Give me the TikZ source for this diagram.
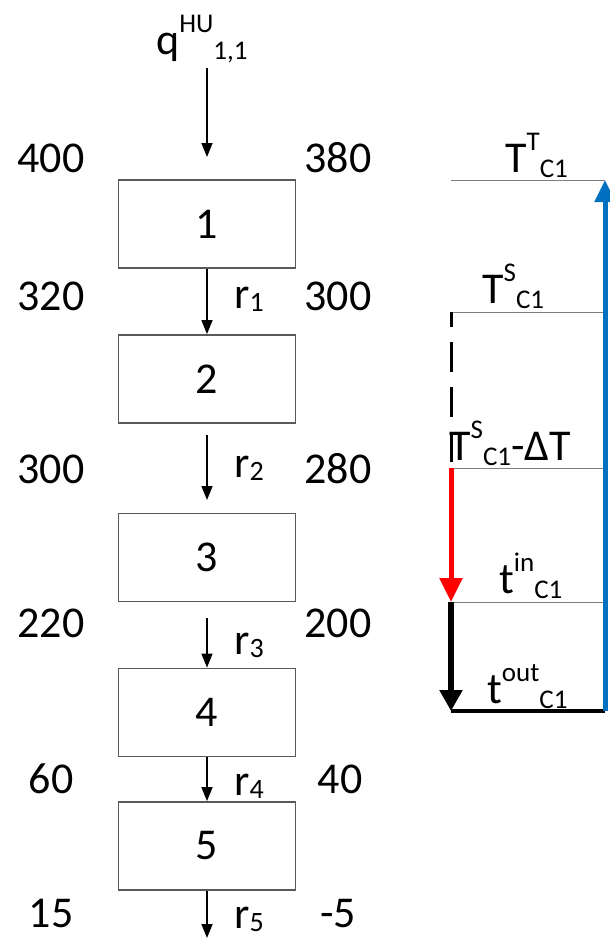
\documentclass[tikz,border=0pt]{standalone}
\usepackage{fontspec}
\setmainfont{Carlito}
\usetikzlibrary{arrows.meta}
\definecolor{boxgray}{HTML}{595959}
\definecolor{linegray}{HTML}{7F7F7F}
\definecolor{myblue}{HTML}{0070C0}
\definecolor{myred}{HTML}{FF0000}
\newcommand{\ssx}[3]{#1\raisebox{22pt}{\fontsize{27}{27}\selectfont #2}\raisebox{-5pt}{\fontsize{27}{27}\selectfont #3}}
\newcommand{\rsub}[1]{r\raisebox{-3pt}{\fontsize{28}{28}\selectfont #1}}
\begin{document}
\begin{tikzpicture}[x=1pt,y=-1pt,
  font=\fontsize{44}{44}\selectfont,
  box/.style={draw=boxgray, line width=1.8pt, minimum width=177pt, minimum height=88pt, inner sep=0pt},
  flow/.style={line width=1.5pt, -{Triangle[length=14pt,width=11pt]}},
  lbl/.style={inner sep=0pt, anchor=base},
  lblw/.style={inner sep=0pt, anchor=base west},
  level/.style={draw=linegray, line width=1pt}]
\useasboundingbox[fill=white] (0,0) rectangle (610,940);

% boxes
\node[box] (b1) at (207,224) {1};
\node[box] (b2) at (207,379) {2};
\node[box] (b3) at (207,557.5) {3};
\node[box] (b4) at (207,712.5) {4};
\node[box] (b5) at (207,846) {5};

% inflow label
\node[lblw] (q) at (156,54) {\ssx{q}{HU}{1,1}};
\coordinate (qa) at (207,68);
\coordinate (qb) at (207,157);
\coordinate (r2a) at (207,435);
\coordinate (r2b) at (207,500);
\coordinate (r3a) at (207,618);
\coordinate (r5b) at (207,938);

\draw[flow] (qa) -- (qb);
\draw[flow] (b1.south) -- (b2.north);
\draw[flow] (r2a) -- (r2b);
\draw[flow] (r3a) -- (b4.north);
\draw[flow] (b4.south) -- (b5.north);
\draw[flow] (b5.south) -- (r5b);

% r labels
\node[lblw] (r1) at (234,308) {\rsub{1}};
\node[lblw] (r2) at (234,477) {\rsub{2}};
\node[lblw] (r3) at (234,654) {\rsub{3}};
\node[lblw] (r4) at (234,795) {\rsub{4}};
\node[lblw] (r5) at (234,928) {\rsub{5}};

% temperatures left / right
\node[lbl] (L1) at (51,172) {400};
\node[lbl] (R1) at (338,172) {380};
\node[lbl] (L2) at (51,310) {320};
\node[lbl] (R2) at (338,310) {300};
\node[lbl] (L3) at (51,483) {300};
\node[lbl] (R3) at (338,483) {280};
\node[lbl] (L4) at (51,637) {220};
\node[lbl] (R4) at (338,637) {200};
\node[lbl] (L5) at (51,793) {60};
\node[lbl] (R5) at (340,793) {40};
\node[lbl] (L6) at (51,927) {15};
\node[lbl] (R6) at (338,927) {-5};

% right side levels
\coordinate (TTl) at (451,180); \coordinate (TTr) at (605,180);
\coordinate (TSl) at (451,312); \coordinate (TSr) at (605,312);
\coordinate (TDl) at (451,468); \coordinate (TDr) at (605,468);
\coordinate (til) at (451,602); \coordinate (tir) at (605,602);
\coordinate (tol) at (451,711); \coordinate (tor) at (605,711);

\draw[level] (TTl) -- (TTr);
\draw[level] (TSl) -- (TSr);
\draw[level] (TDl) -- (TDr);
\draw[level] (til) -- (tir);
\draw[line width=3.5pt] (tol) -- (tor);

\draw[black, line width=3pt, dash pattern=on 30pt off 15pt, dash phase=15pt] (TSl) -- (TDl);
\draw[myred, line width=5pt, -{Triangle[length=24pt,width=22pt]}] (TDl) -- (til);
\draw[black, line width=6pt, -{Triangle[length=21pt,width=22pt]}] (til) -- (tol);
\draw[myblue, line width=5pt, -{Triangle[length=22pt,width=20pt]}] (tor) -- (TTr);

% right labels
\node[lblw] (lTT) at (505,172) {\ssx{T}{T}{C1}};
\node[lblw] (lTS) at (482,303) {\ssx{T}{S}{C1}};
\node[lblw] (lTD) at (449,460) {\ssx{T}{S}{C1}-ΔT};
\node[lblw] (lti) at (499,593) {\ssx{t}{in}{C1}};
\node[lblw] (lto) at (487,703) {\ssx{t}{out}{C1}};
\end{tikzpicture}
\end{document}
